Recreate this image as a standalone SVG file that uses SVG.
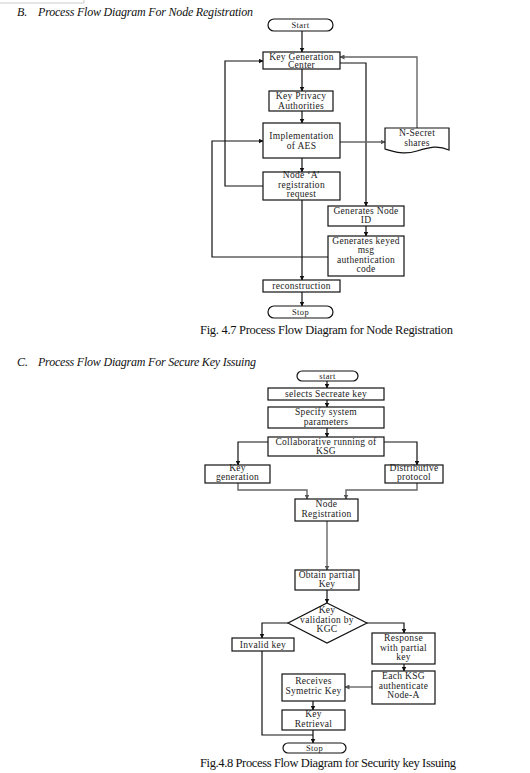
<svg xmlns="http://www.w3.org/2000/svg" width="530" height="773" viewBox="0 0 530 773">
<defs>
<marker id="ah" viewBox="0 0 10 10" refX="9" refY="5" markerWidth="5" markerHeight="5" orient="auto-start-reverse" markerUnits="userSpaceOnUse"><path d="M0,0 L10,5 L0,10 Z" fill="#111"/></marker>
<marker id="ahg" viewBox="0 0 10 10" refX="9" refY="5" markerWidth="5" markerHeight="5" orient="auto-start-reverse" markerUnits="userSpaceOnUse"><path d="M0,0 L10,5 L0,10 Z" fill="#555"/></marker>
</defs>
<style>
text{font-family:"Liberation Serif","Times New Roman",serif;fill:#111}
.t{font-size:9.5px;letter-spacing:0.3px;text-anchor:middle;fill:#222}
.s{font-size:8.5px;letter-spacing:0.4px;text-anchor:middle;fill:#222}
.h{font-size:12px;font-style:italic}
.c{font-size:12.5px}
.box{fill:#fff;stroke:#111;stroke-width:1.2}
.ln{fill:none;stroke:#111;stroke-width:1.2;marker-end:url(#ah)}
.lp{fill:none;stroke:#111;stroke-width:1.2}
.lg{fill:none;stroke:#666;stroke-width:1.4;marker-end:url(#ahg)}
.lgp{fill:none;stroke:#666;stroke-width:1.4}
</style>
<rect width="530" height="773" fill="#fff"/>
<polyline points="0,3 84,3 84,0" fill="none" stroke="#ccc" stroke-width="1"/>

<text class="h" x="17" y="16">B.</text>
<text class="h" x="38" y="16" textLength="215" lengthAdjust="spacing">Process Flow Diagram For Node Registration</text>

<g id="connectors1">
<line class="ln" x1="302" y1="31" x2="302" y2="52"/>
<line class="ln" x1="302" y1="69" x2="302" y2="91"/>
<line class="ln" x1="302" y1="111" x2="302" y2="123"/>
<line class="ln" x1="302" y1="158" x2="302" y2="172"/>
<polyline class="ln" points="263,186 225,186 225,61 263,61"/>
<polyline class="lg" points="417,128 417,57 340,57"/>
<polyline class="ln" points="340,63 366,63 366,206"/>
<line class="lg" x1="340" y1="142" x2="385" y2="142"/>
<line class="ln" x1="366" y1="226" x2="366" y2="236"/>
<polyline class="ln" points="328,257 212,257 212,141 263,141"/>
<line class="ln" x1="302" y1="200" x2="302" y2="280"/>
<line class="ln" x1="302" y1="292" x2="302" y2="306"/>
</g>

<g id="start1"><rect class="box" x="268" y="19" width="65" height="12" rx="6"/><text class="s" x="300.5" y="28">Start</text></g>
<g id="kgc"><rect class="box" x="263" y="52" width="77" height="17"/><text class="t" x="301.5" y="59.5">Key Generation</text><text class="t" x="301.5" y="68">Center</text></g>
<g id="kpa"><rect class="box" x="269" y="91" width="64" height="20"/><text class="t" x="301" y="99">Key Privacy</text><text class="t" x="301" y="108.5">Authorities</text></g>
<g id="aes"><rect class="box" x="263" y="123" width="77" height="35"/><text class="t" x="301.5" y="139">Implementation</text><text class="t" x="301.5" y="148.5">of AES</text></g>
<g id="nodea"><rect class="box" x="263" y="172" width="77" height="28"/><text class="t" x="301.5" y="178">Node ‘A’</text><text class="t" x="301.5" y="187.5">registration</text><text class="t" x="301.5" y="197">request</text></g>
<g id="nsecret"><path class="box" d="M385,128 H449 V150 C438,145 430,147 417,151 C404,155 395,152 385,149 Z"/><text class="t" x="417" y="136">N-Secret</text><text class="t" x="417" y="145.5">shares</text></g>
<g id="genid"><rect class="box" x="328" y="206" width="76" height="20"/><text class="t" x="366" y="213.5">Generates Node</text><text class="t" x="366" y="223">ID</text></g>
<g id="keyed"><rect class="box" x="328" y="236" width="76" height="40"/><text class="t" x="366" y="243.5">Generates keyed</text><text class="t" x="366" y="253">msg</text><text class="t" x="366" y="262.5">authentication</text><text class="t" x="366" y="272">code</text></g>
<g id="recon"><rect class="box" x="263" y="280" width="77" height="12"/><text class="t" x="301.5" y="289">reconstruction</text></g>
<g id="stop1"><rect class="box" x="268" y="306" width="65" height="12" rx="6"/><text class="s" x="300.5" y="315">Stop</text></g>
<text class="c" x="200" y="334" textLength="253" lengthAdjust="spacing">Fig. 4.7 Process Flow Diagram for Node Registration</text>

<text class="h" x="17" y="366">C.</text>
<text class="h" x="38" y="366" textLength="218" lengthAdjust="spacing">Process Flow Diagram For Secure Key Issuing</text>

<g id="connectors2">
<line class="ln" x1="327" y1="381" x2="327" y2="388"/>
<line class="ln" x1="327" y1="400" x2="327" y2="407"/>
<line class="ln" x1="327" y1="428" x2="327" y2="437"/>
<polyline class="ln" points="268,442 238,442 238,465"/>
<polyline class="ln" points="384,442 417,442 417,465"/>
<polyline class="lg" points="238,483 238,490 307,490 307,499"/>
<polyline class="lg" points="417,483 417,490 346,490 346,499"/>
<line class="lg" x1="327" y1="521" x2="327" y2="570"/>
<line class="ln" x1="327" y1="590" x2="327" y2="603"/>
<polyline class="ln" points="288,623 262,623 262,638"/>
<polyline class="ln" points="367,623 404,623 404,633"/>
<line class="ln" x1="404" y1="664" x2="404" y2="671"/>
<line class="lg" x1="372" y1="687" x2="345" y2="687"/>
<line class="ln" x1="313" y1="701" x2="313" y2="710"/>
<line class="ln" x1="313" y1="730" x2="313" y2="743"/>
<polyline class="lp" points="262,651 262,735 313,735"/>
</g>

<g id="start2"><rect class="box" x="297" y="371" width="61" height="10" rx="5"/><text class="s" x="327.5" y="379">start</text></g>
<g id="selects"><rect class="box" x="268" y="388" width="116" height="12"/><text class="t" x="326" y="397">selects Secreate key</text></g>
<g id="specify"><rect class="box" x="268" y="407" width="116" height="21"/><text class="t" x="326" y="415">Specify system</text><text class="t" x="326" y="424.5">parameters</text></g>
<g id="collab"><rect class="box" x="268" y="437" width="116" height="19"/><text class="t" x="326" y="445">Collaborative running of</text><text class="t" x="326" y="454">KSG</text></g>
<g id="keygen"><rect class="box" x="205" y="465" width="65" height="18"/><text class="t" x="237.5" y="471">Key</text><text class="t" x="237.5" y="480">generation</text></g>
<g id="distrib"><rect class="box" x="385" y="465" width="58" height="18"/><text class="t" x="414" y="471">Distributive</text><text class="t" x="414" y="480">protocol</text></g>
<g id="nodereg"><rect class="box" x="295" y="499" width="63" height="22"/><text class="t" x="326.5" y="507">Node</text><text class="t" x="326.5" y="517">Registration</text></g>
<g id="obtain"><rect class="box" x="295" y="570" width="64" height="20"/><text class="t" x="327" y="578">Obtain partial</text><text class="t" x="327" y="587">Key</text></g>
<g id="validate"><polygon class="box" points="327,603 367,623 327,643 288,623"/><text class="t" x="327" y="613">Key</text><text class="t" x="327" y="622.5">validation by</text><text class="t" x="327" y="632">KGC</text></g>
<g id="invalid"><rect class="box" x="232" y="638" width="62" height="13"/><text class="t" x="263" y="647.5">Invalid key</text></g>
<g id="response"><rect class="box" x="372" y="633" width="63" height="31"/><text class="t" x="403.5" y="640.5">Response</text><text class="t" x="403.5" y="650.5">with partial</text><text class="t" x="403.5" y="660">key</text></g>
<g id="eachksg"><rect class="box" x="372" y="671" width="63" height="33"/><text class="t" x="403.5" y="678.5">Each KSG</text><text class="t" x="403.5" y="688.5">authenticate</text><text class="t" x="403.5" y="698">Node-A</text></g>
<g id="receives"><rect class="box" x="282" y="674" width="63" height="27"/><text class="t" x="313.5" y="684">Receives</text><text class="t" x="313.5" y="693.5">Symetric Key</text></g>
<g id="retrieval"><rect class="box" x="282" y="710" width="63" height="20"/><text class="t" x="313.5" y="717">Key</text><text class="t" x="313.5" y="726.5">Retrieval</text></g>
<g id="stop2"><rect class="box" x="283" y="743" width="63" height="10" rx="5"/><text class="s" x="314.5" y="751">Stop</text></g>
<text class="c" x="200" y="767" textLength="256" lengthAdjust="spacing">Fig.4.8 Process Flow Diagram for Security key Issuing</text>
</svg>
